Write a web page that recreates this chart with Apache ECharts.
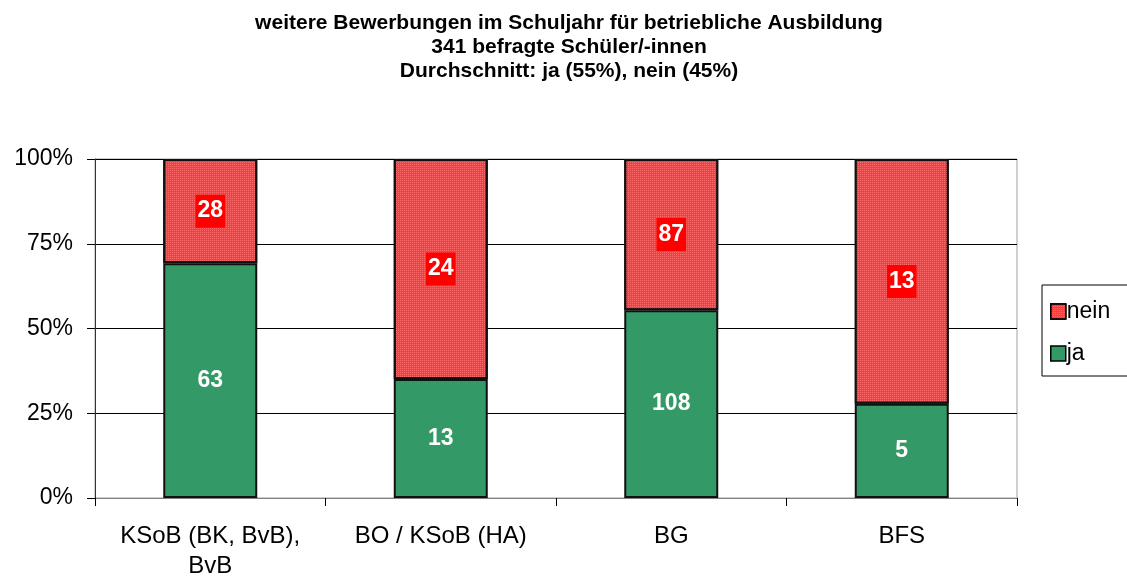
<!DOCTYPE html>
<html>
<head>
<meta charset="utf-8">
<script src="https://cdn.jsdelivr.net/npm/echarts@6/dist/echarts.min.js"></script>
<style>
  html, body { margin: 0; padding: 0; background: #fff; }
  #chart { width: 1127px; height: 576px; }
</style>
</head>
<body>
<div id="chart"></div>
<script>
var categories = ['KSoB (BK, BvB),\nBvB', 'BO / KSoB (HA)', 'BG', 'BFS'];
var ja = [63, 13, 108, 5];
var nein = [28, 24, 87, 13];
var yTicks = [0, 25, 50, 75, 100];

// Prozentanteile fuer die 100%-Saeulen
function share(a, b) {
    return a.map(function (v, i) { return v / (v + b[i]) * 100; });
}
var jaPct = share(ja, nein);
var neinPct = share(nein, ja);

var chart = echarts.init(document.getElementById('chart'));
var font = 'Liberation Sans, Arial, sans-serif';

option = {
    animation: false,
    backgroundColor: '#fff',
    textStyle: { fontFamily: font },
    title: {
        text: 'weitere Bewerbungen im Schuljahr für betriebliche Ausbildung\n341 befragte Schüler/-innen\nDurchschnitt: ja (55%), nein (45%)',
        left: 564,
        textAlign: 'center',
        top: 6,
        textStyle: {
            fontFamily: font,
            fontSize: 21,
            fontWeight: 'bold',
            lineHeight: 24,
            color: '#000'
        }
    },
    legend: {
        data: ['nein', 'ja'],
        orient: 'vertical',
        left: 1042,
        top: 285,
        borderColor: '#000',
        borderWidth: 1,
        padding: [15, 30, 11, 8],
        itemWidth: 15,
        itemHeight: 15,
        itemGap: 19,
        icon: 'rect',
        textStyle: { fontFamily: font, fontSize: 23, color: '#000', padding: [0, 0, 0, -4] },
        itemStyle: { borderColor: '#000', borderWidth: 1.5 }
    },
    grid: {
        left: 95,
        right: 110,
        top: 159,
        bottom: 78,
        outerBoundsMode: 'none',
        containLabel: false,
        show: true,
        borderColor: '#a0a0a0',
        borderWidth: 1
    },
    xAxis: {
        type: 'category',
        data: categories,
        axisLine: { lineStyle: { color: '#808080', width: 1 } },
        axisTick: { show: true, interval: 0, length: 8, inside: false, lineStyle: { color: '#000' } },
        axisLabel: {
            interval: 0,
            hideOverlap: false,
            color: '#000',
            fontSize: 24,
            fontFamily: font,
            margin: 23,
            lineHeight: 30
        }
    },
    yAxis: {
        type: 'value',
        min: 0,
        max: 100,
        interval: 25,
        axisLine: { show: true, lineStyle: { color: '#333', width: 1 } },
        axisTick: { show: true, length: 8, lineStyle: { color: '#000' } },
        splitLine: { show: true, lineStyle: { color: '#000', width: 1 } },
        axisLabel: {
            color: '#000',
            fontSize: 23,
            fontFamily: font,
            margin: 22,
            formatter: function (v) { return yTicks.indexOf(v) >= 0 ? v + '%' : ''; }
        }
    },
    series: [
        {
            name: 'ja',
            type: 'bar',
            stack: 'total',
            barWidth: 94,
            data: jaPct,
            itemStyle: { color: '#339966', borderColor: '#111', borderWidth: 2 },
            label: {
                show: true,
                position: 'inside',
                color: '#fff',
                fontSize: 23,
                fontWeight: 'bold',
                fontFamily: font,
                formatter: function (p) { return ja[p.dataIndex]; }
            }
        },
        {
            name: 'nein',
            type: 'bar',
            stack: 'total',
            barWidth: 94,
            data: neinPct,
            itemStyle: {
                color: '#ff3a3a',
                borderColor: '#111',
                borderWidth: 2,
                decal: {
                    symbol: 'rect',
                    symbolSize: 1,
                    color: 'rgba(255,120,120,0.8)',
                    dashArrayX: [1, 1],
                    dashArrayY: [1, 1]
                }
            },
            label: {
                show: true,
                position: 'inside',
                color: '#fff',
                fontSize: 23,
                fontWeight: 'bold',
                fontFamily: font,
                backgroundColor: '#ff0000',
                padding: [6, 2, 4, 2],
                formatter: function (p) { return nein[p.dataIndex]; }
            }
        }
    ]
};
chart.setOption(option);
window.addEventListener('resize', function () {
    chart.resize();
});
</script>
</body>
</html>
